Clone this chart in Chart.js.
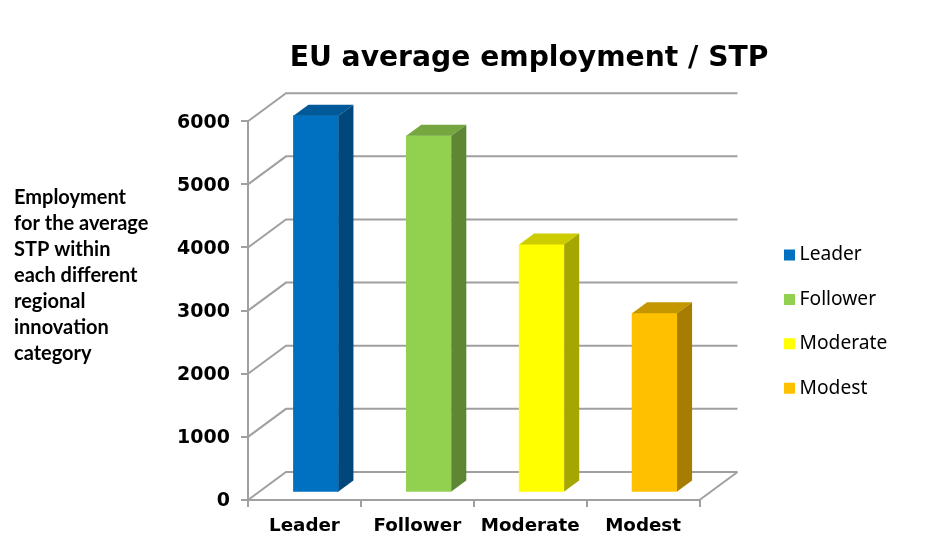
<!DOCTYPE html>
<html>
<head>
<meta charset="utf-8">
<style>html,body{margin:0;padding:0;background:#fff}canvas{display:block}</style>
<script src="https://cdn.jsdelivr.net/npm/chart.js@4/dist/chart.umd.min.js"></script>
</head>
<body>
<canvas id="c" width="933" height="553"></canvas>
<script>
const categories = ['Leader', 'Follower', 'Moderate', 'Modest'];
const values = [5970, 5650, 3930, 2840];
const frontColors = ['#0070C0', '#92D050', '#FFFF00', '#FFC000'];
const topColors = ['#005A9A', '#75A640', '#CCCC00', '#C49600'];
const sideColors = ['#00487B', '#5F8733', '#A6A600', '#A67D00'];
const titleText = 'EU average employment / STP';
const noteLines = ['Employment', 'for the average', 'STP within', 'each different', 'regional', 'innovation', 'category'];
const GRID = '#A0A0A0';
const DEPTH_WALL = {dx: 38, dy: -28};
const DEPTH_BAR = {dx: 15, dy: -11};
const BAR_SHIFT = {x: 11.5, y: -7.5};
const LEGEND_SIZE = 19.2;

const scene = {
  id: 'scene',
  afterLayout(chart) {
    const t = chart.titleBlock;
    t.left = 62.5; t.right = 62.5 + 933; t.top = 42; t.bottom = 76;
    const l = chart.legend, pad = l.options.labels.padding;
    l.left = 789 - pad; l.right = 933; l.top = 255 - LEGEND_SIZE / 2 - pad; l.bottom = 553;
  },
  beforeDatasetsDraw(chart) {
    const {ctx} = chart, y = chart.scales.y, a = chart.chartArea;
    ctx.save();
    ctx.strokeStyle = GRID; ctx.lineWidth = 2;
    y.ticks.forEach(t => {
      const py = y.getPixelForValue(t.value);
      ctx.beginPath();
      ctx.moveTo(a.left, py);
      ctx.lineTo(a.left + DEPTH_WALL.dx, py + DEPTH_WALL.dy);
      ctx.lineTo(a.right + DEPTH_WALL.dx, py + DEPTH_WALL.dy);
      ctx.stroke();
    });
    ctx.beginPath();
    const p0 = y.getPixelForValue(0);
    ctx.moveTo(a.right, p0);
    ctx.lineTo(a.right + DEPTH_WALL.dx, p0 + DEPTH_WALL.dy);
    ctx.stroke();
    ctx.restore();
    ctx.save();
    ctx.translate(BAR_SHIFT.x, BAR_SHIFT.y);
  },
  afterDatasetsDraw(chart) {
    const {ctx} = chart, d = DEPTH_BAR;
    chart.getDatasetMeta(0).data.forEach((b, i) => {
      const L = b.x - b.width / 2, R = b.x + b.width / 2, T = b.y, B = b.base;
      ctx.fillStyle = topColors[i];
      ctx.beginPath();
      ctx.moveTo(L, T); ctx.lineTo(L + d.dx, T + d.dy); ctx.lineTo(R + d.dx, T + d.dy); ctx.lineTo(R, T);
      ctx.closePath(); ctx.fill();
      ctx.fillStyle = sideColors[i];
      ctx.beginPath();
      ctx.moveTo(R, T); ctx.lineTo(R + d.dx, T + d.dy); ctx.lineTo(R + d.dx, B + d.dy); ctx.lineTo(R, B);
      ctx.closePath(); ctx.fill();
    });
    ctx.restore();
    ctx.save();
    ctx.fillStyle = '#000';
    ctx.font = 'bold 20px Lato';
    ctx.textBaseline = 'alphabetic';
    noteLines.forEach((s, i) => ctx.fillText(s, 14, 203.5 + i * 26));
    ctx.restore();
  }
};

new Chart(document.getElementById('c'), {
  type: 'bar',
  data: {
    labels: categories,
    datasets: [{data: values, backgroundColor: frontColors, barThickness: 45, borderWidth: 0, clip: false}]
  },
  plugins: [scene],
  options: {
    responsive: false,
    animation: false,
    layout: {padding: {left: 0, right: 233.5, top: 87.4, bottom: 13}},
    plugins: {
      tooltip: {enabled: false},
      title: {
        display: true,
        text: titleText,
        color: '#000',
        padding: 0,
        font: {family: 'DejaVu Sans', size: 28.2, weight: 'bold'}
      },
      legend: {
        display: true,
        position: 'chartArea',
        align: 'start',
        labels: {
          boxWidth: 1,
          boxHeight: 1,
          padding: 44.4 - LEGEND_SIZE,
          color: '#000',
          font: {family: 'Noto Sans', size: LEGEND_SIZE},
          generateLabels: () => categories.map((c, i) => ({
            text: c, fillStyle: frontColors[i], strokeStyle: frontColors[i],
            lineWidth: 10, lineCap: 'butt', lineJoin: 'miter', lineDash: [], lineDashOffset: 0,
            hidden: false, index: i, fontColor: '#000'
          }))
        }
      }
    },
    scales: {
      x: {
        afterFit: s => { s.height = 40; },
        grid: {drawOnChartArea: false, color: GRID, lineWidth: 2, tickLength: 7},
        border: {color: GRID, width: 2},
        ticks: {color: '#000', padding: 8, maxRotation: 0, font: {family: 'DejaVu Sans', size: 18.3, weight: 'bold'}}
      },
      y: {
        min: 0, max: 6000,
        afterFit: s => { s.width = 248; },
        grid: {drawOnChartArea: false, color: GRID, lineWidth: 2, tickLength: 7},
        border: {color: GRID, width: 2},
        ticks: {stepSize: 1000, color: '#000', padding: 11, labelOffset: 1.5, callback: v => String(v), font: {family: 'DejaVu Sans', size: 19, weight: 'bold'}}
      }
    }
  }
});
</script>
</body>
</html>
